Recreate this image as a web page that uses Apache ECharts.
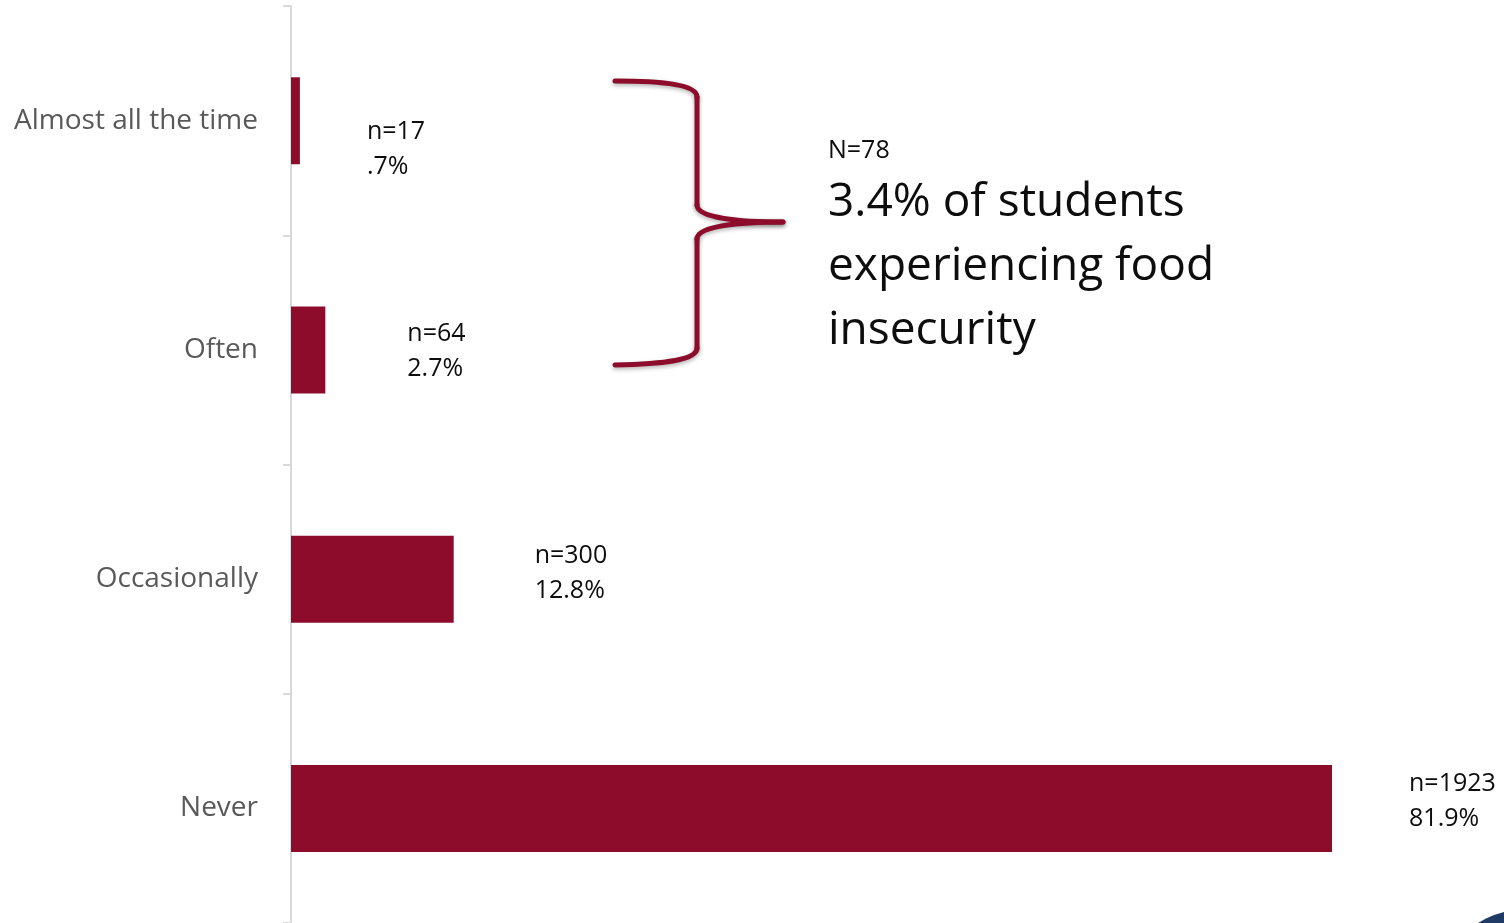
<!DOCTYPE html>
<html>
<head>
<meta charset="utf-8">
<title>Food insecurity frequency</title>
<script src="https://cdn.jsdelivr.net/npm/echarts@6/dist/echarts.min.js"></script>
<style>
  html, body { margin: 0; padding: 0; background: #ffffff; }
  #chart { width: 1504px; height: 923px; }
</style>
</head>
<body>
<div id="chart"></div>
<script>
// Survey responses: how often students went without enough food
const categories = ['Almost all the time', 'Often', 'Occasionally', 'Never'];
const percents = [0.7, 2.7, 12.8, 81.9];
const counts = [17, 64, 300, 1923];
const percentText = ['.7%', '2.7%', '12.8%', '81.9%'];

// Callout text
const calloutCount = 'N=78';
const calloutLines = ['3.4% of students', 'experiencing food', 'insecurity'];

// Label placement tweaks per bar: [dx, dy] from the bar end
const labelShift = [[67, 29], [82, 1], [81, -6], [77, -7]];

const BAR_COLOR = '#8E0C2B';
const FONT = '"Open Sans", "Noto Sans", sans-serif';

const chart = echarts.init(document.getElementById('chart'), null, { renderer: 'canvas' });

const seriesData = percents.map((v, i) => ({
  value: v,
  label: {
    offset: labelShift[i],
    formatter: 'n=' + counts[i] + '\n' + percentText[i]
  }
}));

// Stroke style shared by the pieces of the curly brace
const braceStyle = {
  fill: null,
  stroke: BAR_COLOR,
  lineWidth: 5,
  lineCap: 'round',
  shadowColor: 'rgba(0,0,0,0.3)',
  shadowBlur: 4,
  shadowOffsetY: 2
};

function curve(x1, y1, cpx1, cpy1, cpx2, cpy2, x2, y2) {
  return {
    type: 'bezierCurve',
    shape: { x1, y1, cpx1, cpy1, cpx2, cpy2, x2, y2 },
    style: braceStyle,
    z: 10
  };
}
function straight(x1, y1, x2, y2) {
  return {
    type: 'line',
    shape: { x1, y1, x2, y2 },
    style: braceStyle,
    z: 10
  };
}

chart.setOption({
  animation: false,
  backgroundColor: '#ffffff',
  grid: { left: 291, right: 69, top: 6, bottom: -4, containLabel: false },
  xAxis: {
    type: 'value',
    min: 0,
    max: 90,
    show: false,
    splitLine: { show: false }
  },
  yAxis: {
    type: 'category',
    data: categories,
    inverse: true,
    offset: 2,
    axisLine: { show: true, lineStyle: { color: '#d9d9d9', width: 2 } },
    axisTick: { show: true, length: 8, lineStyle: { color: '#d9d9d9', width: 2 } },
    axisLabel: {
      margin: 31,
      color: '#595959',
      fontFamily: FONT,
      fontSize: 28,
      padding: [4, 0, 0, 0]
    },
    splitLine: { show: false }
  },
  series: [{
    type: 'bar',
    data: seriesData,
    barWidth: 87,
    itemStyle: { color: BAR_COLOR },
    label: {
      show: true,
      position: 'right',
      distance: 0,
      color: '#0d0d0d',
      fontFamily: FONT,
      fontSize: 25,
      lineHeight: 35,
      align: 'left'
    }
  }],
  graphic: [
    // curly brace grouping the first two categories
    curve(615, 81, 660, 81, 697, 84, 697, 97),
    straight(697, 97, 697, 205),
    curve(697, 205, 697, 218, 740, 222, 783, 222),
    curve(783, 222, 740, 222, 697, 226, 697, 239),
    straight(697, 239, 697, 348),
    curve(697, 348, 697, 361, 660, 364, 615, 365),
    {
      type: 'text',
      left: 828,
      top: 138,
      style: {
        text: calloutCount,
        fill: '#0d0d0d',
        font: '25px ' + FONT
      }
    },
    {
      type: 'text',
      left: 828,
      top: 171,
      style: {
        text: calloutLines.join('\n'),
        fill: '#0d0d0d',
        font: '46px ' + FONT,
        lineHeight: 64
      }
    },
    // corner accent
    {
      type: 'polygon',
      shape: {
        points: [[1478, 923], [1486, 918.5], [1494, 915], [1504, 912], [1504, 923]]
      },
      style: { fill: '#1F3B66' }
    }
  ]
});
</script>
</body>
</html>
